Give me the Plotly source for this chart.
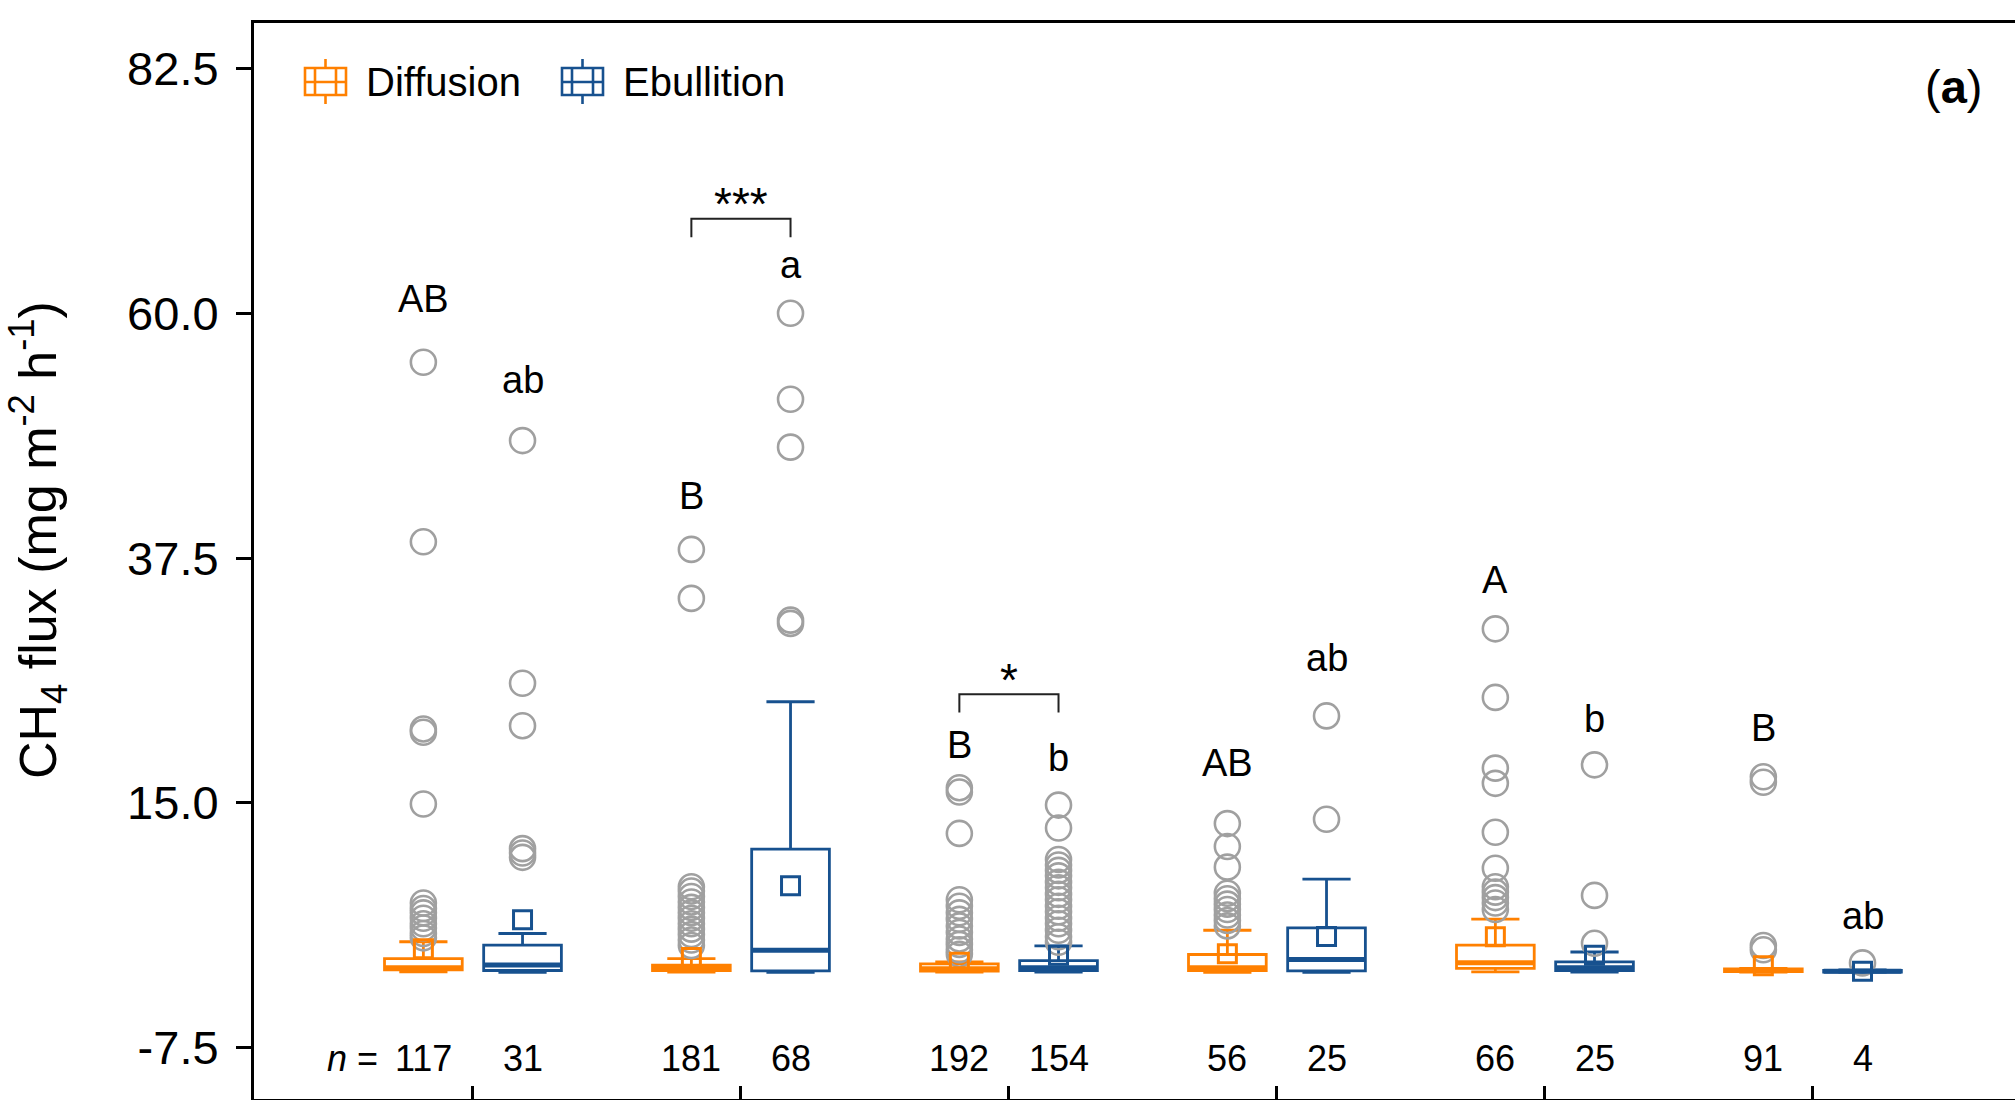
import plotly.graph_objects as go

# ---------------- data ----------------
groups = [1, 2, 3, 4, 5, 6]
n_diff = [117, 181, 192, 56, 66, 91]
n_ebul = [31, 68, 154, 25, 25, 4]

# Diffusion box statistics
diff_q1 = [-0.35, -0.40, -0.45, -0.40, -0.21, -0.50]
diff_med = [-0.15, -0.20, -0.25, -0.15, 0.31, -0.40]
diff_q3 = [0.70, 0.10, 0.20, 1.07, 1.93, -0.25]
diff_lo = [-0.52, -0.55, -0.55, -0.58, -0.52, -0.55]
diff_hi = [2.24, 0.70, 0.40, 3.30, 4.32, -0.20]
diff_mean = [1.60, 0.80, 0.35, 1.13, 2.70, 0.03]
diff_out = [
    [55.5, 39.0, 21.8, 21.5, 14.9, 5.8, 5.3, 4.9, 4.4, 3.9, 3.5, 3.0, 2.6],
    [38.3, 33.8, 7.3, 6.9, 6.4, 5.9, 5.4, 4.9, 4.4, 3.9, 3.4, 2.9, 2.4, 1.9],
    [16.4, 16.0, 12.2, 6.1, 5.5, 4.9, 4.3, 3.7, 3.1, 2.5, 2.0, 1.5, 1.1],
    [13.1, 11.0, 9.1, 6.7, 6.2, 5.7, 5.2, 4.7, 4.2, 3.7],
    [31.0, 24.7, 18.2, 16.8, 12.3, 9.0, 7.3, 6.8, 6.3, 5.8, 5.2],
    [17.4, 16.9, 1.9, 1.5],
]

# Ebullition box statistics
ebul_q1 = [-0.40, -0.43, -0.40, -0.43, -0.40, -0.55]
ebul_med = [0.10, 1.47, -0.15, 0.61, -0.15, -0.46]
ebul_q3 = [1.93, 10.75, 0.50, 3.52, 0.40, -0.38]
ebul_lo = [-0.58, -0.58, -0.55, -0.58, -0.55, -0.58]
ebul_hi = [3.00, 24.30, 1.87, 8.00, 1.30, -0.35]
ebul_mean = [4.26, 7.40, 1.00, 2.73, 1.00, -0.46]
ebul_out = [
    [48.3, 26.0, 22.1, 10.8, 10.4, 10.0],
    [60.0, 52.1, 47.7, 31.8, 31.5],
    [14.8, 12.7, 9.8, 9.3, 8.8, 8.3, 7.7, 7.2, 6.6, 6.1, 5.5, 5.0, 4.4, 3.9, 3.3, 2.7, 2.2],
    [23.0, 13.5],
    [18.5, 6.5, 2.1],
    [0.3],
]

# group letters
diff_letters = ["AB", "B", "B", "AB", "A", "B"]
ebul_letters = ["ab", "a", "b", "ab", "b", "ab"]
diff_letter_y = [61.3, 43.2, 20.3, 18.7, 35.5, 21.9]
ebul_letter_y = [53.9, 64.4, 19.1, 28.3, 22.7, 4.6]

# significance brackets between diffusion and ebullition
sig_groups = [2, 3]
sig_labels = ["***", "*"]
sig_top = [68.7, 25.0]

yticks = [-7.5, 15.0, 37.5, 60.0, 82.5]
series_names = ["Diffusion", "Ebullition"]

# ---------------- style ----------------
ORANGE = "#FF8000"
BLUE = "#17518F"
GRAY = "#A0A0A0"
FONT = "Liberation Sans, Arial, sans-serif"
OFF = 0.185
BOXW = 0.29
W, H = 2015, 1100
ML, MT, MB, MR = 254, 23, 1, 0
PW, PH = W - ML - MR, H - MT - MB


def px(x):
    return (x - ML) / PW


def py(y):
    return 1 - (y - MT) / PH


diff_x = [g - OFF for g in groups]
ebul_x = [g + OFF for g in groups]

fig = go.Figure()

# outliers (drawn beneath boxes)
ox, oy = [], []
for xs, outs in ((diff_x, diff_out), (ebul_x, ebul_out)):
    for x, vals in zip(xs, outs):
        ox += [x] * len(vals)
        oy += vals
fig.add_trace(go.Scatter(
    x=ox, y=oy, mode="markers", showlegend=False,
    marker=dict(symbol="circle-open", size=25, color=GRAY, line=dict(width=2.6, color=GRAY)),
))

for name, xs, q1, med, q3, lo, hi, col in (
    (series_names[0], diff_x, diff_q1, diff_med, diff_q3, diff_lo, diff_hi, ORANGE),
    (series_names[1], ebul_x, ebul_q1, ebul_med, ebul_q3, ebul_lo, ebul_hi, BLUE),
):
    fig.add_trace(go.Box(
        name=name, x=xs, q1=q1, median=med, q3=q3, lowerfence=lo, upperfence=hi,
        width=BOXW, whiskerwidth=0.62, boxpoints=False,
        fillcolor="rgba(255,255,255,0)", line=dict(color=col, width=2.8),
        showlegend=False,
    ))

# thicker median lines
for xs, med, col in ((diff_x, diff_med, ORANGE), (ebul_x, ebul_med, BLUE)):
    mx, my = [], []
    for x, m in zip(xs, med):
        mx += [x - BOXW / 2, x + BOXW / 2, None]
        my += [m, m, None]
    fig.add_trace(go.Scatter(x=mx, y=my, mode="lines", showlegend=False,
                             line=dict(color=col, width=5)))

# mean squares
for xs, mean, col in ((diff_x, diff_mean, ORANGE), (ebul_x, ebul_mean, BLUE)):
    fig.add_trace(go.Scatter(
        x=xs, y=mean, mode="markers", showlegend=False,
        marker=dict(symbol="square-open", size=18, color=col, line=dict(width=3, color=col)),
    ))

# significance brackets
bx, by = [], []
for g, top in zip(sig_groups, sig_top):
    bx += [g - OFF, g - OFF, g + OFF, g + OFF, None]
    by += [top - 1.7, top, top, top - 1.7, None]
fig.add_trace(go.Scatter(x=bx, y=by, mode="lines", showlegend=False,
                         line=dict(color="#222222", width=2)))

annotations = []
for g, top, lab in zip(sig_groups, sig_top, sig_labels):
    annotations.append(dict(x=g, y=top + 1.3, text=lab, showarrow=False, yanchor="middle",
                            font=dict(size=46, family=FONT, color="black")))
for xs, labs, ys in ((diff_x, diff_letters, diff_letter_y), (ebul_x, ebul_letters, ebul_letter_y)):
    for x, lab, y in zip(xs, labs, ys):
        annotations.append(dict(x=x, y=y, text=lab, showarrow=False,
                                font=dict(size=38, family=FONT, color="black")))
for xs, ns in ((diff_x, n_diff), (ebul_x, n_ebul)):
    for x, n in zip(xs, ns):
        annotations.append(dict(x=x, y=-8.45, text=str(n), showarrow=False,
                                font=dict(size=36, family=FONT, color="black")))
annotations.append(dict(x=diff_x[0] - 0.16, y=-8.45, text="<i>n</i> =", showarrow=False,
                        xanchor="right", font=dict(size=36, family=FONT, color="black")))
annotations.append(dict(xref="paper", yref="paper", x=px(1984), y=py(87), text="(<b>a</b>)",
                        showarrow=False, xanchor="right", yanchor="middle",
                        font=dict(size=47, family=FONT, color="black")))
annotations.append(dict(xref="paper", yref="paper", x=px(38), y=py(540),
                        text="CH<sub>4</sub> flux (mg m<sup>-2</sup> h<sup>-1</sup>)",
                        textangle=-90, showarrow=False, xanchor="center", yanchor="middle",
                        font=dict(size=52, family=FONT, color="black")))

# custom legend (box-like icons + labels)
shapes = []
for x0, col, name in ((305, ORANGE, series_names[0]), (562, BLUE, series_names[1])):
    x1 = x0 + 41
    ln = dict(color=col, width=2.6)
    shapes.append(dict(type="rect", xref="paper", yref="paper", x0=px(x0), x1=px(x1),
                       y0=py(95), y1=py(68), line=ln))
    shapes.append(dict(type="line", xref="paper", yref="paper", x0=px(x0), x1=px(x1),
                       y0=py(82), y1=py(82), line=ln))
    for xv in (x0 + 10, x0 + 31):
        shapes.append(dict(type="line", xref="paper", yref="paper", x0=px(xv), x1=px(xv),
                           y0=py(95), y1=py(68), line=ln))
    xm = x0 + 20.5
    shapes.append(dict(type="line", xref="paper", yref="paper", x0=px(xm), x1=px(xm),
                       y0=py(68), y1=py(59), line=ln))
    shapes.append(dict(type="line", xref="paper", yref="paper", x0=px(xm), x1=px(xm),
                       y0=py(104), y1=py(95), line=ln))
    annotations.append(dict(xref="paper", yref="paper", x=px(x1 + 18), y=py(82), text=name,
                            showarrow=False, xanchor="left", yanchor="middle",
                            font=dict(size=40, family=FONT, color="black")))

fig.update_layout(
    width=W, height=H,
    margin=dict(l=ML, r=MR, t=MT, b=MB),
    plot_bgcolor="white", paper_bgcolor="white",
    boxmode="overlay", showlegend=False,
    font=dict(family=FONT, color="black"),
    annotations=annotations, shapes=shapes,
    xaxis=dict(range=[0.183, 6.754], showgrid=False, zeroline=False, automargin=False,
               showline=True, linecolor="black", linewidth=3, mirror=True,
               tickvals=groups, ticks="inside", ticklen=13, tickwidth=2.5,
               tickcolor="black", showticklabels=False),
    yaxis=dict(range=[-12.21, 86.68], showgrid=False, zeroline=False, automargin=False,
               showline=True, linecolor="black", linewidth=3, mirror=False,
               tickvals=yticks, ticktext=[f"{v:.1f}" for v in yticks],
               ticks="outside", ticklen=15, tickwidth=3, tickcolor="black",
               ticklabelstandoff=8,
               tickfont=dict(size=47, family=FONT, color="black")),
)

fig.write_html("out.html", config={"displayModeBar": False},
               post_script="document.body.style.margin='0';")
